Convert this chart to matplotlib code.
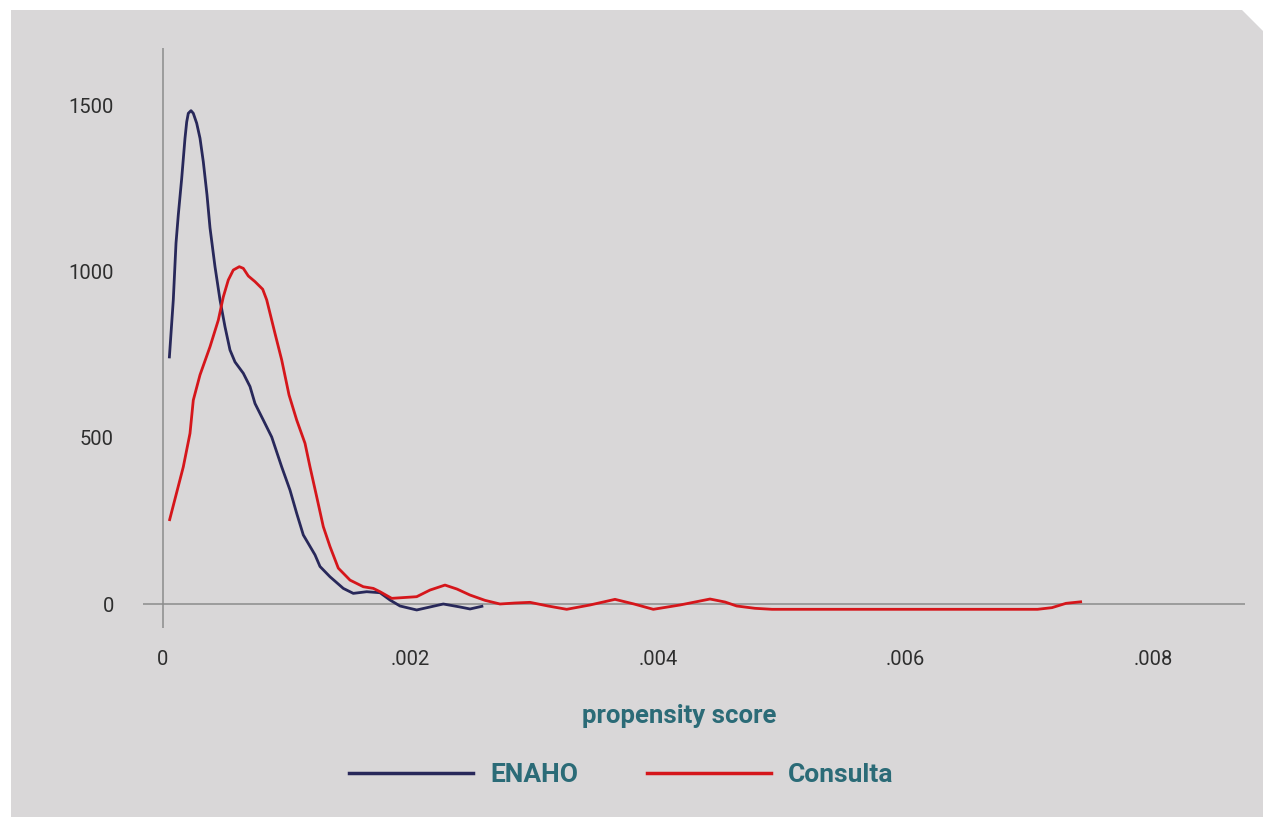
import matplotlib
matplotlib.use("Agg")
import matplotlib.pyplot as plt
from matplotlib.patches import Polygon
from matplotlib.lines import Line2D

plt.rcParams['font.family'] = ['Roboto', 'DejaVu Sans']

# densidad estimada del propensity score
enaho_x = [0.0000509, 0.0000832, 0.0001051, 0.0001236, 0.0001511, 0.0001778, 0.0001915,
           0.0002044, 0.0002263, 0.0002448, 0.0002723, 0.000299, 0.0003257, 0.0003556,
           0.0003798, 0.0004202, 0.0004606, 0.000501, 0.0005414, 0.0005818, 0.0006489,
           0.000703, 0.0007434, 0.0008105, 0.0008784, 0.0009592, 0.0010263, 0.0010804,
           0.0011337, 0.0012283, 0.0012687, 0.0013495, 0.001457, 0.0015378, 0.0016461,
           0.0017535, 0.0018343, 0.0019152, 0.0020501, 0.0021576, 0.002265, 0.0024,
           0.002481, 0.002588]
enaho_y = [740, 916, 1087, 1172, 1282, 1403, 1452,
           1478, 1486, 1478, 1448, 1403, 1332, 1232,
           1133, 1016, 916, 835, 765, 729, 695,
           655, 604, 554, 503, 413, 343, 273,
           208, 148, 113, 82, 47, 32, 37,
           34, 12, -6, -18, -9, 0, -9,
           -15, -6]

consulta_x = [0.0000509, 0.000164, 0.0002182, 0.0002448, 0.000299, 0.00038, 0.0004469,
              0.0004873, 0.0005277, 0.0005681, 0.0006166, 0.0006489, 0.0006893, 0.0007434,
              0.0008057, 0.000838, 0.000905, 0.0009592, 0.0010182, 0.0010804, 0.0011475,
              0.0011879, 0.001242, 0.0012953, 0.0013495, 0.0014166, 0.0015111, 0.0016186,
              0.0016994, 0.0017535, 0.0018481, 0.00205, 0.0021576, 0.0022788, 0.0023758,
              0.0024808, 0.002602, 0.0027232, 0.0028444, 0.0029657, 0.0031111, 0.0032622,
              0.0034505, 0.0036525, 0.0038061, 0.003962, 0.0041778, 0.0044202, 0.0045414,
              0.0046359, 0.0047838, 0.0049212, 0.0070667, 0.0071838, 0.007297, 0.0074263]
consulta_y = [250, 413, 514, 614, 690, 775, 855,
              925, 976, 1006, 1016, 1011, 988, 971,
              948, 916, 815, 735, 630, 554, 484,
              413, 323, 233, 173, 108, 72, 52,
              47, 37, 17, 22, 42, 57, 45,
              27, 11, 0, 3, 5, -6, -16,
              -3, 14, 0, -16, -3, 15, 6,
              -6, -13, -16, -16, -11, 2, 7]

xticks = [0, 0.002, 0.004, 0.006, 0.008]
xtick_labels = ['0', '.002', '.004', '.006', '.008']
yticks = [0, 500, 1000, 1500]

W, H = 1263, 817
navy = '#28285a'
red = '#d5161b'
teal = '#2b6b77'

fig = plt.figure(figsize=(W / 100, H / 100), dpi=100, facecolor='white')

# panel gris con la esquina recortada
pts = [(11, 10), (1242, 10), (1263, 31), (1263, 817), (11, 817)]
fig.patches.append(Polygon([(x / W, 1 - y / H) for x, y in pts], closed=True,
                           transform=fig.transFigure, facecolor='#d9d7d8',
                           edgecolor='none', zorder=-10))

ax = fig.add_axes([143 / W, 1 - 628 / H, (1245 - 143) / W, (628 - 48) / H])
ax.set_facecolor('none')
ax.set_xlim(-20 / 123750, 1082 / 123750)
ax.set_ylim(-24 / 0.332, 556 / 0.332)
for s in ax.spines.values():
    s.set_visible(False)
ax.axhline(0, color='#8c8c8c', lw=1.1, zorder=1)
ax.axvline(0, color='#8c8c8c', lw=1.1, zorder=1)

ax.plot(enaho_x, enaho_y, color=navy, lw=2.0, zorder=3,
        solid_joinstyle='round', solid_capstyle='butt')
ax.plot(consulta_x, consulta_y, color=red, lw=2.0, zorder=3,
        solid_joinstyle='round', solid_capstyle='butt')

ax.set_xticks(xticks)
ax.set_xticklabels(xtick_labels)
ax.set_yticks(yticks)
ax.tick_params(axis='both', length=0, labelsize=14.5, labelcolor='#2e2e2e')
ax.tick_params(axis='x', pad=16)
ax.tick_params(axis='y', pad=21)
for lab in ax.get_xticklabels() + ax.get_yticklabels():
    lab.set_fontweight('normal')

fig.text(679 / W, 1 - 716 / H, 'propensity score', ha='center', va='center',
         color=teal, fontsize=18.5, fontweight='bold')

handles = [Line2D([], [], color=navy, lw=2.5), Line2D([], [], color=red, lw=2.5)]
leg = fig.legend(handles, ['ENAHO', 'Consulta'], loc='center',
                 bbox_to_anchor=(621 / W, 1 - 775 / H), ncol=2, frameon=False,
                 borderpad=0, handlelength=4.7, handletextpad=0.65,
                 columnspacing=2.6, prop={'size': 19, 'weight': 'bold'})
for t in leg.get_texts():
    t.set_color(teal)

fig.savefig('out.png', dpi=100, facecolor='white')
